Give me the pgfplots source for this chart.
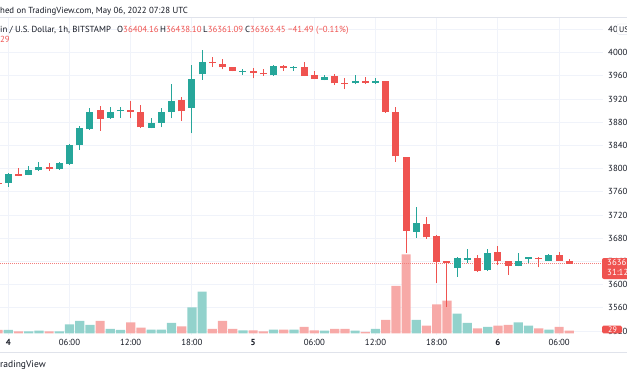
\documentclass[border=0pt]{standalone}
\usepackage{pgfplots}
\pgfplotsset{compat=1.18}
\usepackage{pgfplotstable}
\usepackage{fontspec}
\setmainfont{PT Sans}
\definecolor{tvgreen}{HTML}{26A69A}
\definecolor{tvred}{HTML}{EF5350}
\definecolor{volgreen}{HTML}{92D2CC}
\definecolor{volred}{HTML}{F7A9A7}
\definecolor{tvgrid}{HTML}{F0F3FA}
\definecolor{tvtext}{HTML}{131722}
\definecolor{tvborder}{HTML}{E0E3EB}

\pgfplotstableread{
k o h l c
0 37748 37920 37690 37903
2 37891 38047 37886 37978
3 37972 38110 37966 38024
5 37989 38121 37978 38093
6 38075 38426 38064 38409
7 38414 38736 38323 38702
8 38679 39041 38668 38983
10 38880 39058 38857 38983
11 38989 39058 38880 39018
14 38702 38869 38696 38794
15 38788 39052 38713 38983
16 38978 39460 38869 39167
18 39047 39788 38610 39541
19 39627 40047 39535 39834
23 39667 39725 39621 39684
26 39610 39782 39604 39771
28 39736 39771 39690 39754
31 39535 39610 39523 39575
34 39472 39621 39455 39518
36 39478 39569 39460 39506
40 36909 37340 36811 37070
44 36294 36480 36139 36466
45 36426 36610 36369 36455
47 36248 36610 36236 36552
50 36328 36552 36316 36415
51 36438 36483 36380 36472
53 36415 36530 36405 36518
}\greencandles

\pgfplotstableread{
k o h l c
-1 37760 37780 37735 37748
1 37903 38006 37874 37880
4 38029 38104 37960 37989
9 39006 39081 38650 38857
12 39018 39167 38869 38978
13 38972 39098 38708 38713
17 39190 39231 38822 38989
20 39834 39926 39759 39822
21 39805 39886 39713 39748
22 39754 39760 39680 39690
24 39684 39730 39558 39650
25 39656 39713 39604 39627
27 39776 39794 39690 39736
29 39754 39845 39598 39604
30 39616 39684 39541 39547
32 39598 39633 39443 39472
33 39485 39558 39374 39475
35 39518 39575 39460 39478
37 39506 39512 38966 38983
38 38983 39070 38121 38213
39 38196 38210 36541 36932
41 37047 37162 36794 36817
42 36840 36850 36035 36386
43 36403 36410 35610 36380
46 36455 36512 36225 36236
48 36570 36667 36334 36403
49 36403 36415 36173 36328
52 36466 36472 36300 36443
54 36518 36558 36405 36415
55 36404.16 36438.10 36361.09 36363.45
}\redcandles

\pgfplotstableread{
k v
0 10
2 6
3 8
5 6
6 27
7 37
8 25
10 13
11 10
14 11
15 11
16 31
18 78
19 125
23 9
26 11
28 11
31 8
34 8
36 13
40 40
44 59
45 31
47 19
50 33
51 23
53 11
}\greenvol

\pgfplotstableread{
k v
-1 10
1 6
4 6
9 37
12 33
13 17
17 21
20 13
21 37
22 13
24 9
25 6
27 11
29 19
30 9
32 13
33 13
35 4
37 40
38 142
39 237
41 23
42 87
43 98
46 15
48 23
49 25
52 15
54 19
55 8
}\redvol

\begin{document}
\begin{tikzpicture}[x=1pt,y=1pt,font=\fontsize{8.8}{10}\selectfont,color=tvtext]
\pgfplotsset{
  tvbase/.style={scale only axis, width=603pt, anchor=south west,
    xmin=-0.814, xmax=58.3, axis line style={draw=none}, major tick length=0pt},
  candle/.style 2 args={draw=none, mark=none, error bars/.cd, y dir=plus, y explicit, error mark=none,
    error bar style={draw=#1, line width=#2}},
}
% grid + tick labels
\begin{axis}[tvbase, height=317pt, at={(0pt,41pt)}, ymin=35133, ymax=40598,
  xtick={0,6,...,54},
  xticklabels={\textbf{4},06:00,12:00,18:00,\textbf{5},06:00,12:00,18:00,\textbf{6},06:00},
  ytick={35200,35600,...,40400},
  grid=major, grid style={tvgrid, line width=1pt},
  yticklabel pos=right,
  scaled y ticks=false,
  xticklabel style={anchor=north, inner sep=0pt, yshift=-4pt, text=tvtext},
  yticklabel style={anchor=west, inner sep=0pt, xshift=5pt, text=tvtext},
  /pgf/number format/fixed, /pgf/number format/1000 sep={},
  /pgf/number format/assume math mode=true]
\addplot[draw=none, mark=none, forget plot] coordinates {(0,36000)};
\end{axis}
% volume
\begin{axis}[tvbase, height=315.3pt, at={(0pt,42.7pt)}, ymin=0, ymax=946, hide axis]
\addplot[ybar, bar shift=0pt, bar width=9.2pt, fill=volgreen, draw=none] table[x=k,y=v]{\greenvol};
\addplot[ybar, bar shift=0pt, bar width=9.2pt, fill=volred, draw=none] table[x=k,y=v]{\redvol};
\end{axis}
% candles
\begin{axis}[tvbase, height=317pt, at={(0pt,41pt)}, ymin=35133, ymax=40598, hide axis]
\addplot[tvred!75, mark=none, dash pattern=on 1pt off 1pt, line width=0.7pt] coordinates {(-2,36363.45) (60,36363.45)};
\addplot[candle={tvgreen}{1pt}]
  table[x=k, y=l, y error expr=\thisrow{h}-\thisrow{l}] {\greencandles};
\addplot[candle={tvred}{1pt}]
  table[x=k, y=l, y error expr=\thisrow{h}-\thisrow{l}] {\redcandles};
\addplot[candle={tvgreen}{7pt}]
  table[x=k, y=o, y error expr=\thisrow{c}-\thisrow{o}] {\greencandles};
\addplot[candle={tvred}{7pt}]
  table[x=k, y=c, y error expr=\thisrow{o}-\thisrow{c}] {\redcandles};
\end{axis}
% borders
\draw[tvborder, line width=1pt] (0,359) -- (627,359);
\draw[tvborder, line width=1pt] (0,24) -- (627,24);
% header
\node[anchor=base west, inner sep=0pt] at (0,362.8) {hed on TradingView.com, May 06, 2022 07:28 UTC};
\node[anchor=base west, inner sep=0pt] at (0,343.8) {in / U.S. Dollar, 1h, BITSTAMP};
\node[anchor=base west, inner sep=0pt] at (117,343.8) {O\textcolor{tvred}{36404.16}};
\node[anchor=base west, inner sep=0pt] at (160,343.8) {H\textcolor{tvred}{36438.10}};
\node[anchor=base west, inner sep=0pt] at (203,343.8) {L\textcolor{tvred}{36361.09}};
\node[anchor=base west, inner sep=0pt] at (245,343.8) {C\textcolor{tvred}{36363.45}};
\node[anchor=base west, inner sep=0pt, text=tvred] at (288,343.8) {−41.49 (−0.11\%)};
\node[anchor=base west, inner sep=0pt, text=tvred] at (0,333.8) {29};
% footer
\node[anchor=base west, inner sep=0pt, font=\fontsize{9.5}{10}\selectfont] at (0,8.5) {radingView};
% right scale boxes
\fill[tvred, rounded corners=2pt] (602,118) rectangle (645,97);
\node[anchor=base west, inner sep=0pt, text=white] at (607,110.8) {36363.45};
\node[anchor=base west, inner sep=0pt, text=white] at (607,100.5) {31:12};
\fill[tvred, rounded corners=1.5pt] (602,50.3) rectangle (622,42.7);
\node[anchor=center, inner sep=0pt, text=white, font=\fontsize{8}{9}\selectfont] at (612.5,46.5) {29};
\draw[fill=white, draw=tvborder, rounded corners=2pt] (617,352) rectangle (645,341.7);
\node[anchor=base west, inner sep=0pt, font=\fontsize{8}{9}\selectfont] at (619,343.8) {USD};
\pgfresetboundingbox
\useasboundingbox (0,0) rectangle (627,376);
\end{tikzpicture}
\end{document}
